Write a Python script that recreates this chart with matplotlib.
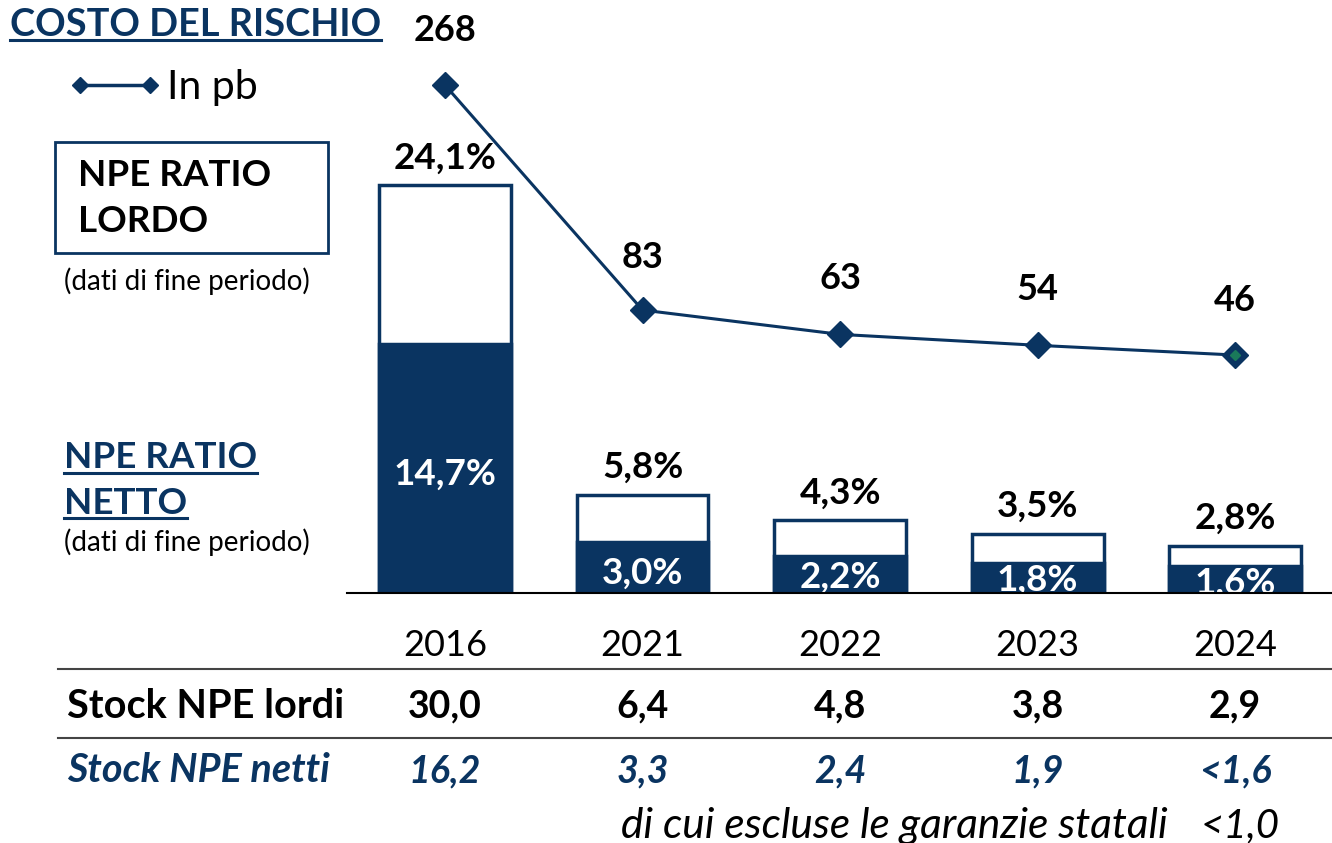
import matplotlib
matplotlib.use("Agg")
import matplotlib.pyplot as plt
from matplotlib.lines import Line2D
from matplotlib.patches import Rectangle

plt.rcParams['font.family'] = ['Lato', 'DejaVu Sans']

years = ["2016", "2021", "2022", "2023", "2024"]
npe_lordo = [24.1, 5.8, 4.3, 3.5, 2.8]
npe_netto = [14.7, 3.0, 2.2, 1.8, 1.6]
costo_rischio = [268, 83, 63, 54, 46]
stock_lordi = ["30,0", "6,4", "4,8", "3,8", "2,9"]
stock_netti = ["16,2", "3,3", "2,4", "1,9", "<1,6"]
escluse_label = "di cui escluse le garanzie statali"
escluse_value = "<1,0"

NAVY = "#0a3461"
W, H = 1332, 843
fig = plt.figure(figsize=(W / 100, H / 100), dpi=100)

def fx(px):
    return px / W

def fy(py):
    return 1 - py / H

PXPCT = 16.93
ax = fig.add_axes([fx(347), fy(593), fx(1332) - fx(347), 593 / H])
x = list(range(len(years)))
ax.set_xlim(-0.496, 4.49)
ax.set_ylim(0, 593 / PXPCT)
for s in ["top", "right", "left"]:
    ax.spines[s].set_visible(False)
ax.spines["bottom"].set_color("black")
ax.spines["bottom"].set_linewidth(1.5)
ax.spines["bottom"].set_zorder(6)
ax.set_yticks([])
ax.set_xticks([])

bw = 0.667
ax.bar(x, npe_lordo, width=bw, color="white", edgecolor=NAVY, linewidth=2.5, zorder=2)
ax.bar(x, npe_netto, width=bw, color=NAVY, edgecolor=NAVY, linewidth=2.5, zorder=3)

inner_y = [474, 573, 577, 580, 583]
for i, (g, n) in enumerate(zip(npe_lordo, npe_netto)):
    ax.text(i, g + 1.6, f"{g:.1f}%".replace(".", ","), ha="center", va="center",
            fontsize=26.5, fontweight="bold", color="black", zorder=5)
    ax.text(i, (593 - inner_y[i]) / PXPCT, f"{n:.1f}%".replace(".", ","),
            ha="center", va="center", fontsize=26.5, fontweight="bold",
            color="white", zorder=5)

ax2 = ax.twinx()
ax2.set_ylim(-149.7, 338.0)
ax2.axis("off")
ax2.plot(x, costo_rischio, color=NAVY, lw=2.2, marker="D", markersize=13,
         markerfacecolor=NAVY, markeredgecolor=NAVY, zorder=6, clip_on=False)
ax2.plot([x[-1]], [costo_rischio[-1]], marker="D", markersize=5, color="#1a7a5a",
         lw=0, zorder=7, clip_on=False)
offsets = [45, 43, 46, 45.5, 45]
for i, v in enumerate(costo_rischio):
    ax2.text(i, v + offsets[i], str(v), ha="center", va="center",
             fontsize=26, fontweight="bold", color="black", clip_on=False)

for i, yl in enumerate(years):
    fig.text(fx(445 + 197.5 * i), fy(645), yl, ha="center", va="center",
             fontsize=26, color="black")

fig.add_artist(Line2D([fx(58), fx(1332)], [fy(669), fy(669)], color="#444444", lw=1.5))
fig.add_artist(Line2D([fx(58), fx(1332)], [fy(738), fy(738)], color="#444444", lw=1.5))

fig.text(fx(67), fy(706), "Stock NPE lordi", ha="left", va="center",
         fontsize=28.5, fontweight="bold", color="black")
fig.text(fx(67), fy(771), "Stock NPE netti", ha="left", va="center",
         fontsize=28.5, fontweight="bold", style="italic", color=NAVY)
for i in range(len(years)):
    cx = fx(445 + 197.5 * i)
    fig.text(cx, fy(706), stock_lordi[i], ha="center", va="center",
             fontsize=27, fontweight="bold", color="black")
    fig.text(cx, fy(771), stock_netti[i], ha="center", va="center",
             fontsize=27, fontweight="bold", style="italic", color=NAVY)
fig.text(fx(1168), fy(826), escluse_label, ha="right", va="center",
         fontsize=30.5, style="italic", color="black")
fig.text(fx(1240), fy(826), escluse_value, ha="center", va="center",
         fontsize=29, style="italic", color="black")

title = fig.text(fx(10), fy(25), "COSTO DEL RISCHIO", ha="left", va="center",
                 fontsize=27.3, fontweight="bold", color=NAVY)
fig.add_artist(Line2D([fx(80), fx(150)], [fy(85), fy(85)], color=NAVY, lw=2.5,
                      marker="D", markersize=8, markevery=[0, 1]))
fig.text(fx(167), fy(88), "In pb", ha="left", va="center", fontsize=29.5, color="black")

fig.add_artist(Rectangle((fx(55), fy(253)), fx(328) - fx(55), fy(142) - fy(253),
                         transform=fig.transFigure, fill=False, edgecolor=NAVY, lw=2))
fig.text(fx(78), fy(176), "NPE RATIO", ha="left", va="center", fontsize=26.5,
         fontweight="bold", color="black")
fig.text(fx(78), fy(222), "LORDO", ha="left", va="center", fontsize=26.5,
         fontweight="bold", color="black")
fig.text(fx(64), fy(281), "(dati di fine periodo)", ha="left", va="center",
         fontsize=20, color="black")

n1 = fig.text(fx(64), fy(458), "NPE RATIO", ha="left", va="center", fontsize=26.5,
              fontweight="bold", color=NAVY)
n2 = fig.text(fx(64), fy(503), "NETTO", ha="left", va="center", fontsize=26.5,
              fontweight="bold", color=NAVY)
fig.text(fx(64), fy(542), "(dati di fine periodo)", ha="left", va="center",
         fontsize=20, color="black")

fig.canvas.draw()
r = fig.canvas.get_renderer()
inv = fig.transFigure.inverted()
for t in (title, n1, n2):
    bb = t.get_window_extent(r)
    (x0, y0), (x1, _) = inv.transform([(bb.x0, bb.y0), (bb.x1, bb.y1)])
    fig.add_artist(Line2D([x0, x1], [y0 + 0.002, y0 + 0.002], color=NAVY, lw=2.2))

fig.savefig("out.png", dpi=100)
